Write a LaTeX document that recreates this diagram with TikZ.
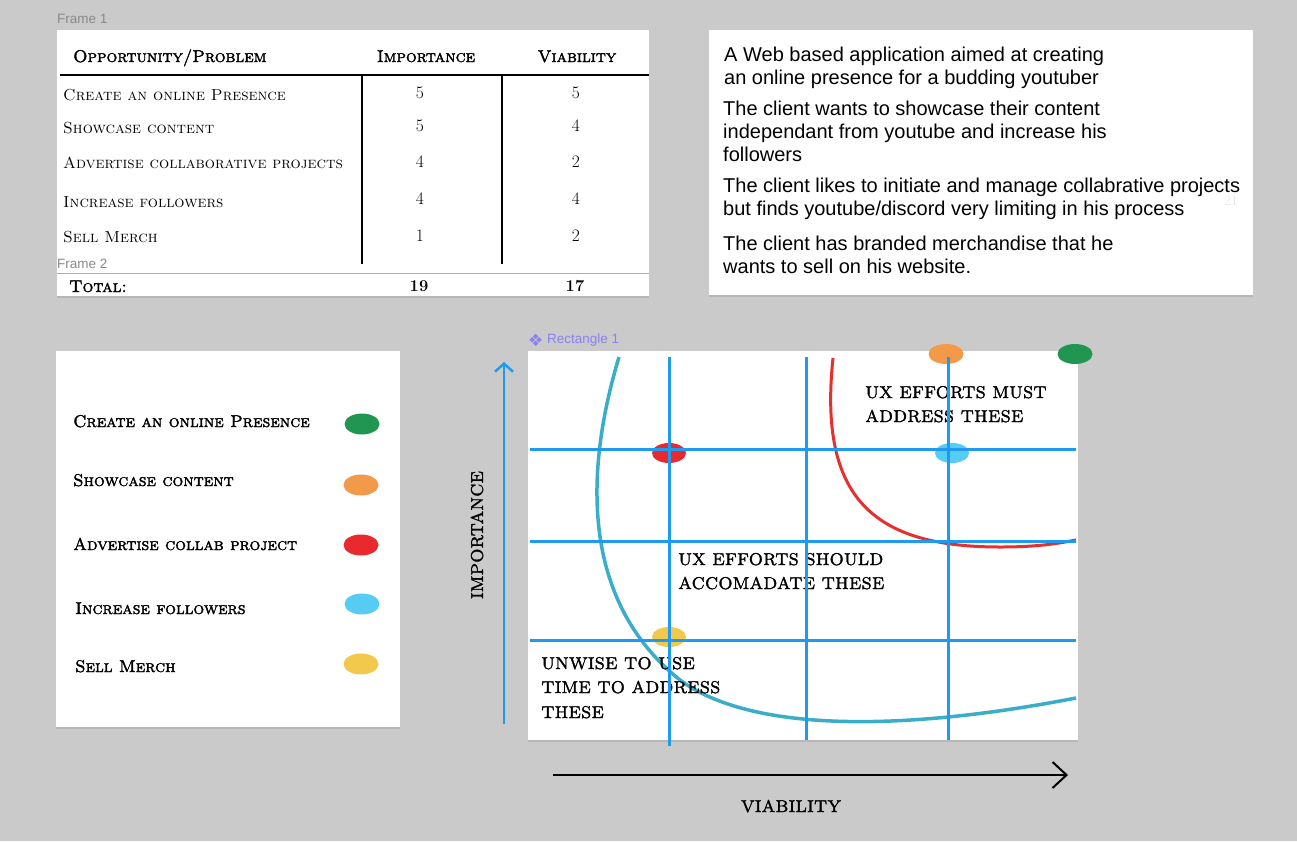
\documentclass[tikz,border=0pt]{standalone}
\usepackage{fontspec}
\newfontfamily\uisans{Liberation Sans}
\newfontfamily\symfont{DejaVu Sans}
\newfontfamily\capsbold[FakeBold=2]{lmromancaps10-regular.otf}
\usetikzlibrary{shapes.geometric,arrows.meta,shadows}
\definecolor{bg}{HTML}{CACACA}
\definecolor{gridblue}{HTML}{1E9BF0}
\definecolor{tealc}{HTML}{3AAEC8}
\definecolor{redc}{HTML}{E5302F}
\definecolor{dgreen}{HTML}{219653}
\definecolor{dorange}{HTML}{F2994A}
\definecolor{dred}{HTML}{E8292D}
\definecolor{dblue}{HTML}{56CCF2}
\definecolor{dyellow}{HTML}{F2C94C}
\definecolor{framegray}{HTML}{8A8A8A}
\definecolor{figpurple}{HTML}{8B7FF5}
\begin{document}
\begin{tikzpicture}[x=1pt,y=-1pt,
  panel/.style={fill=white, draw=none, anchor=north west, inner sep=0pt,
    drop shadow={shadow xshift=0pt, shadow yshift=-2pt, opacity=0.25}},
  framelbl/.style={font=\uisans\fontsize{13.5}{16}\selectfont, text=framegray, anchor=west, inner sep=0pt},
  rowtxt/.style={font=\fontsize{16}{19}\selectfont\scshape, anchor=base west, inner sep=0pt},
  hdrtxt/.style={font=\capsbold\fontsize{17}{20}\selectfont, anchor=base west, inner sep=0pt},
  numtxt/.style={font=\fontsize{17.5}{20}\selectfont, anchor=base, inner sep=0pt},
  tottxt/.style={font=\bfseries\fontsize{16.5}{19}\selectfont, anchor=base, inner sep=0pt},
  desc/.style={font=\uisans\fontsize{20}{23}\selectfont, anchor=base west, inner sep=0pt},
  legtxt/.style={font=\capsbold\fontsize{17}{20}\selectfont, anchor=base west, inner sep=0pt},
  charttxt/.style={font=\capsbold\fontsize{17}{24}\selectfont, anchor=base west, inner sep=0pt},
  dot/.style={ellipse, minimum width=35pt, minimum height=21pt, inner sep=0pt, draw=none},
  gridln/.style={gridblue, line width=3pt},
  tline/.style={black, line width=1.2pt}
]
\fill[bg] (0,0) rectangle (1297,841);
\useasboundingbox (0,0) rectangle (1297,841);

% ---------------- Table (Frame 1) ----------------
\node[framelbl] (f1) at (57,19) {Frame 1};
\node[panel, minimum width=592pt, minimum height=266pt] (tbl) at (57,30) {};
\node[hdrtxt] (h1) at (73,62) {Opportunity/Problem};
\node[hdrtxt, anchor=base] (h2) at (426,62) {Importance};
\node[hdrtxt, anchor=base] (h3) at (577,62) {Viability};
\coordinate (hl1) at (60,75); \coordinate (hl2) at (649,75);
\draw[tline] (hl1) -- (hl2);
\coordinate (v1a) at (362,75); \coordinate (v1b) at (362,264);
\coordinate (v2a) at (502,75); \coordinate (v2b) at (502,264);
\draw[tline] (v1a) -- (v1b);
\draw[tline] (v2a) -- (v2b);

\node[rowtxt] (r1) at (63,100) {Create an online Presence};
\node[rowtxt] (r2) at (63,133) {Showcase content};
\node[rowtxt] (r3) at (63,168) {Advertise collaborative projects};
\node[rowtxt] (r4) at (63,207) {Increase followers};
\node[rowtxt] (r5) at (63,242) {Sell Merch};

\node[numtxt] (i1) at (420,98) {5};
\node[numtxt] (i2) at (420,131) {5};
\node[numtxt] (i3) at (420,167) {4};
\node[numtxt] (i4) at (420,204) {4};
\node[numtxt] (i5) at (420,241) {1};
\node[numtxt] (w1) at (576,98) {5};
\node[numtxt] (w2) at (576,131) {4};
\node[numtxt] (w3) at (576,167) {2};
\node[numtxt] (w4) at (576,204) {4};
\node[numtxt] (w5) at (576,241) {2};

\node[framelbl] (f2) at (57,264) {Frame 2};
\coordinate (tl1) at (57,273); \coordinate (tl2) at (649,273);
\draw[framegray!70, line width=1pt] (tl1) -- (tl2);
\node[hdrtxt] (tot) at (69,292) {Total:};
\node[tottxt] (t1) at (419,291) {19};
\node[tottxt] (t2) at (575,291) {17};

% ---------------- Description box ----------------
\node[panel, minimum width=544pt, minimum height=265pt] (dbox) at (709,30) {};
\node[desc] (d1) at (724,61) {A Web based application aimed at creating};
\node[desc] (d2) at (724,84) {an online presence for a budding youtuber};
\node[desc] (d3) at (723,115) {The client wants to showcase their content};
\node[desc] (d4) at (723,138) {independant from youtube and increase his};
\node[desc] (d5) at (723,161) {followers};
\node[desc] (d6) at (723,192) {The client likes to initiate and manage collabrative projects};
\node[desc] (d7) at (723,215) {but finds youtube/discord very limiting in his process};
\node[desc] (d8) at (723,250) {The client has branded merchandise that he};
\node[desc] (d9) at (723,273) {wants to sell on his website.};
\node[font=\fontsize{14}{16}\selectfont, text=black!9, anchor=base, inner sep=0pt] (n21) at (1231,205) {21};

% ---------------- Legend ----------------
\node[panel, minimum width=344pt, minimum height=376pt] (leg) at (56,351) {};
\node[legtxt] (l1) at (73,427) {Create an online Presence};
\node[legtxt] (l2) at (73,486) {Showcase content};
\node[legtxt] (l3) at (73,550) {Advertise collab project};
\node[legtxt] (l4) at (75,614) {Increase followers};
\node[legtxt] (l5) at (75,672) {Sell Merch};
\node[dot, fill=dgreen] (lg) at (362,424) {};
\node[dot, fill=dorange] (lo) at (361,485) {};
\node[dot, fill=dred] (lr) at (361,545) {};
\node[dot, fill=dblue] (lb) at (362,604) {};
\node[dot, fill=dyellow] (ly) at (361,664) {};

% ---------------- Chart ----------------
\node[anchor=west, inner sep=0pt, text=figpurple, font=\symfont\fontsize{17}{18}\selectfont] (ricon) at (528,340) {❖};
\node[framelbl, text=figpurple] (rlbl) at (547,340) {Rectangle 1};
\node[panel, minimum width=550pt, minimum height=389pt] (chart) at (528,351) {};

% curves
\coordinate (tc1) at (619,357); \coordinate (tc2) at (680,680); \coordinate (tc3) at (1076,698);
\draw[tealc, line width=3.5pt] (tc1) .. controls (585,470) and (580,600) .. (tc2)
   .. controls (750,732) and (900,732) .. (tc3);
\coordinate (rc1) at (833,358); \coordinate (rc2) at (1000,547); \coordinate (rc3) at (1076,540);
\draw[redc, line width=3pt] (rc1) .. controls (818,500) and (875,547) .. (rc2)
   .. controls (1040,547) and (1060,543) .. (rc3);

% dots
\node[dot, fill=dred, minimum width=34pt, minimum height=20pt] (pr) at (669,453) {};
\node[dot, fill=dblue, minimum width=34pt, minimum height=20pt] (pb) at (952,453) {};
\node[dot, fill=dyellow, minimum width=34pt, minimum height=20pt] (py) at (669,637) {};
\node[dot, fill=dorange, minimum width=35pt, minimum height=20pt] (po) at (946,354) {};
\node[dot, fill=dgreen, minimum width=35pt, minimum height=20pt] (pg) at (1075,354) {};

% chart labels
\node[charttxt] (c1) at (865,398) {UX EFFORTS MUST};
\node[charttxt] (c2) at (865,422) {ADDRESS THESE};
\node[charttxt] (c3) at (678,565) {UX EFFORTS SHOULD};
\node[charttxt] (c4) at (678,589) {ACCOMADATE THESE};
\node[charttxt] (c5) at (541,669) {UNWISE TO USE};
\node[charttxt] (c6) at (541,693) {TIME TO ADDRESS};
\node[charttxt] (c7) at (541,718) {THESE};

% grid
\coordinate (gv1a) at (669,357); \coordinate (gv1b) at (669,746);
\coordinate (gv2a) at (806,357); \coordinate (gv2b) at (806,740);
\coordinate (gv3a) at (948,357); \coordinate (gv3b) at (948,740);
\coordinate (gh1a) at (530,449); \coordinate (gh1b) at (1076,449);
\coordinate (gh2a) at (530,541); \coordinate (gh2b) at (1076,541);
\coordinate (gh3a) at (530,640); \coordinate (gh3b) at (1076,640);
\draw[gridln] (gv1a) -- (gv1b);
\draw[gridln] (gv2a) -- (gv2b);
\draw[gridln] (gv3a) -- (gv3b);
\draw[gridln] (gh1a) -- (gh1b);
\draw[gridln] (gh2a) -- (gh2b);
\draw[gridln] (gh3a) -- (gh3b);

% axes
\coordinate (ia) at (504,724); \coordinate (ib) at (504,362);
\draw[gridblue, line width=2.5pt, -{Straight Barb[length=8pt,width=18pt,line width=2.5pt]}] (ia) -- (ib);
\node[charttxt, anchor=center, rotate=90] (ilbl) at (477,535) {IMPORTANCE};
\coordinate (va) at (553,775); \coordinate (vb) at (1068,775);
\draw[black, line width=2pt, -{Straight Barb[length=14pt,width=26pt,line width=2pt]}] (va) -- (vb);
\node[charttxt, anchor=base] (vlbl) at (791,812) {VIABILITY};
\end{tikzpicture}
\end{document}
